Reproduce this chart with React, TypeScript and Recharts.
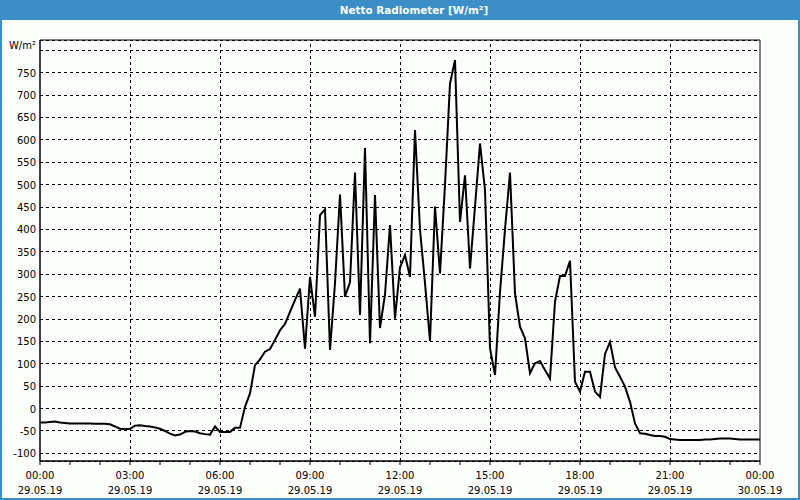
import {
  CartesianGrid,
  Line,
  LineChart,
  ReferenceArea,
  ReferenceLine,
  XAxis,
  YAxis,
} from "recharts";

// one reading every 10 minutes, 29.05.19 00:00 -> 30.05.19 00:00
const STEP_MIN = 10;

const NIGHT = [
  -31, -31, -30, -29, -31, -32, -33, -33, -33, -33, -33, -34, -34, -34, -35, -40, -45, -46,
];
const EARLY = [
  -45, -38, -37, -39, -40, -42, -45, -50, -56, -60, -58, -52, -50, -51, -55, -57, -58, -40,
];
const MORNING = [
  -52, -52, -52, -43, -43, 4, 34, 97, 110, 127, 133, 153, 175, 189, 216, 242, 268, 134,
];
const LATE_MORNING = [
  294, 205, 432, 445, 131, 280, 478, 250, 282, 527, 209, 582, 146, 477, 180, 255, 410, 201,
];
const NOON = [
  315, 343, 294, 622, 400, 280, 151, 451, 302, 500, 726, 778, 417, 521, 313, 451, 592, 488,
];
const AFTERNOON = [
  135, 75, 260, 400, 527, 257, 183, 157, 79, 101, 106, 86, 67, 239, 296, 296, 330, 60,
];
const EVENING = [
  38, 82, 82, 38, 26, 122, 149, 92, 71, 49, 15, -33, -55, -56, -59, -61, -61, -63,
];
const LATE = [
  -68, -69, -70, -70, -70, -70, -70, -69, -69, -68, -67, -67, -67, -68, -69, -69, -69, -69, -69,
];

const VALUES = [
  ...NIGHT,
  ...EARLY,
  ...MORNING,
  ...LATE_MORNING,
  ...NOON,
  ...AFTERNOON,
  ...EVENING,
  ...LATE,
];

const HOUR_TICKS = [
  0, 60, 120, 180, 240, 300, 360, 420, 480, 540, 600, 660, 720, 780, 840, 900, 960, 1020,
  1080, 1140, 1200, 1260, 1320, 1380, 1440,
];
const LABEL_MINUTES = [0, 180, 360, 540, 720, 900, 1080, 1260, 1440];
const TIME_LABELS = ["00:00", "03:00", "06:00", "09:00", "12:00", "15:00", "18:00", "21:00", "00:00"];
const DATE_LABELS = [
  "29.05.19", "29.05.19", "29.05.19", "29.05.19", "29.05.19",
  "29.05.19", "29.05.19", "29.05.19", "30.05.19",
];
const GRID_X = [180, 360, 540, 720, 900, 1080, 1260];
const Y_TICKS = [-100, -50, 0, 50, 100, 150, 200, 250, 300, 350, 400, 450, 500, 550, 600, 650, 700, 750, 800];
const Y_MIN = -117;
const Y_MAX = 823;

const data = VALUES.map((value, i) => ({ t: i * STEP_MIN, value }));

const FONT = "'DejaVu Sans', sans-serif";
const BLUE = "#3b8ec6";

function TimeTick({ x, y, payload }: any) {
  const i = LABEL_MINUTES.indexOf(payload.value);
  if (i < 0) return <g />;
  return (
    <g>
      <text x={x} y={y + 14} textAnchor="middle" fontSize={10} fontFamily={FONT} fill="#000">
        {TIME_LABELS[i]}
      </text>
      <text x={x} y={y + 29} textAnchor="middle" fontSize={10} fontFamily={FONT} fill="#000">
        {DATE_LABELS[i]}
      </text>
    </g>
  );
}

function ValueTick({ x, y, payload }: any) {
  const top = payload.value === 800;
  return (
    <text
      x={x}
      y={top ? y - 1 : y + 4}
      textAnchor="end"
      fontSize={10}
      fontFamily={FONT}
      fill="#000"
    >
      {top ? "W/m²" : payload.value}
    </text>
  );
}

export default function App() {
  return (
    <div
      style={{
        position: "fixed",
        left: 0,
        top: 0,
        width: 800,
        height: 500,
        background: BLUE,
        overflow: "hidden",
      }}
    >
      <style>{`.recharts-cartesian-grid line, .recharts-reference-line line { shape-rendering: crispEdges; }`}</style>
      <div
        style={{
          position: "absolute",
          left: 2,
          top: 20,
          width: 796,
          height: 478,
          background: "#fcfefc",
        }}
      />
      <div
        style={{
          position: "absolute",
          left: 28,
          top: 0,
          width: 772,
          height: 20,
          lineHeight: "20px",
          textAlign: "center",
          color: "#fff",
          fontWeight: "bold",
          fontSize: 10.4,
          fontFamily: FONT,
        }}
      >
        Netto Radiometer [W/m²]
      </div>
      <div style={{ position: "absolute", left: 0, top: 0 }}>
        <LineChart
          width={800}
          height={500}
          data={data}
          margin={{ top: 40, right: 40, bottom: 0, left: 0 }}
        >
          <CartesianGrid vertical={false} stroke="#000" strokeDasharray="3 3" />
          {GRID_X.map((gx) => (
            <ReferenceLine key={gx} x={gx} stroke="#000" strokeDasharray="3 3" />
          ))}
          <XAxis
            dataKey="t"
            type="number"
            domain={[0, 1440]}
            ticks={HOUR_TICKS}
            interval={0}
            height={39}
            tickSize={4}
            tickMargin={0}
            axisLine={{ stroke: "#000" }}
            tickLine={{ stroke: "#000" }}
            tick={<TimeTick />}
          />
          <YAxis
            type="number"
            domain={[Y_MIN, Y_MAX]}
            allowDataOverflow
            ticks={Y_TICKS}
            interval={0}
            width={40}
            tickSize={0}
            tickMargin={4}
            tickLine={false}
            axisLine={{ stroke: "#000" }}
            tick={<ValueTick />}
          />
          <ReferenceArea
            x1={0}
            x2={1440}
            y1={Y_MIN}
            y2={Y_MAX}
            fill="none"
            stroke="#000"
            strokeWidth={1}
            ifOverflow="visible"
          />
          <Line
            type="linear"
            dataKey="value"
            stroke="#000"
            strokeWidth={2}
            dot={false}
            isAnimationActive={false}
          />
        </LineChart>
      </div>
    </div>
  );
}
